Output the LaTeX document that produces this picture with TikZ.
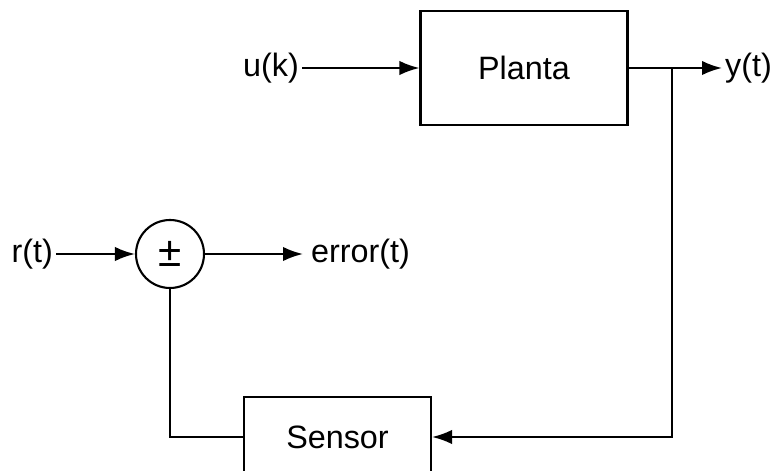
\documentclass[tikz,border=0pt]{standalone}
\usepackage{fontspec}
\setmainfont{Liberation Sans}
\usetikzlibrary{arrows.meta, positioning}

\begin{document}
\begin{tikzpicture}[font=\fontsize{23}{27}\selectfont, line width=1.5pt,
  block/.style={draw, minimum width=5.175cm, minimum height=2.85cm},
  sumnode/.style={draw, circle, minimum size=1.7cm, inner sep=0pt},
  sig/.style={inner sep=1.5pt},
  flow/.style={-{Latex[length=5mm, width=3.6mm]}}]
  \useasboundingbox (0,0) rectangle (19.375,11.75);
  % ---- plant ----
  \node[block] (planta) at (13.1,10.05) {Planta};
  \node[sig, anchor=east] (uk) at (7.55,10.05) {u(k)};
  \node[sig, anchor=west] (yt) at (18.05,10.05) {y(t)};
  \coordinate (branch) at (16.8,10.05);
  \draw[flow] (uk) -- (planta);
  \draw[flow] (planta.east) -- (yt.west);
  % ---- comparator ----
  \node[sumnode, font=\fontsize{30}{32}\selectfont] (sum) at (4.25,5.4) {±};
  \node[sig, anchor=east] (rt) at (1.4,5.4) {r(t)};
  \node[sig, anchor=west, inner sep=5pt] (err) at (7.575,5.4) {error(t)};
  \draw[flow] (rt) -- (sum);
  \draw[flow] (sum) -- (err);
  % ---- feedback ----
  \node[block, minimum width=4.675cm, minimum height=2cm] (sensor) at (8.4375,0.825) {Sensor};
  \draw[flow] (branch) |- (sensor.east);
  \draw (sensor.west) -| (sum.south);
\end{tikzpicture}
\end{document}
